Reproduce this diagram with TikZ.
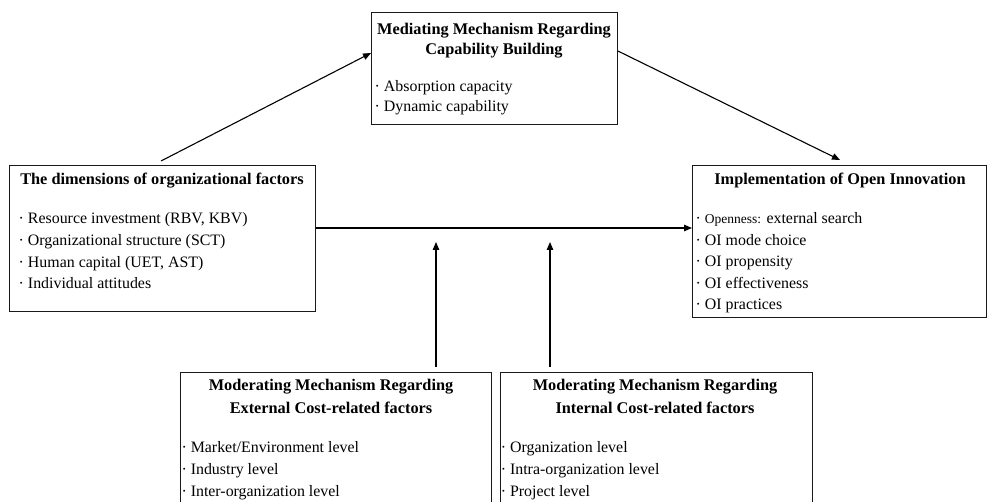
\documentclass[tikz,border=0pt]{standalone}
\usepackage{fontspec}
\setmainfont{Liberation Serif}
\usetikzlibrary{arrows.meta,calc}
\begin{document}
\begin{tikzpicture}[x=1pt,y=-1pt,
  box/.style={draw=black!90, line width=0.9pt, rectangle, inner sep=0pt, anchor=north west},
  ttl/.style={font=\fontsize{16.3}{21}\selectfont\bfseries, align=center, inner sep=0pt, anchor=base},
  lst/.style={font=\fontsize{15.9}{21.6}\selectfont, align=left, inner sep=0pt, anchor=base west},
  arr/.style={line width=1.1pt, -{Triangle[length=8pt,width=6.5pt]}}]
\useasboundingbox (0,0) rectangle (987,502);
\clip (0,0) rectangle (987,502);
% boxes
\node[box, minimum width=306, minimum height=146] (dim) at (9,165) {};
\node[box, minimum width=246, minimum height=112] (med) at (371,12) {};
\node[box, minimum width=294, minimum height=152] (impl) at (692,165) {};
\node[box, minimum width=311, minimum height=140] (ext) at (180,372) {};
\node[box, minimum width=312, minimum height=140] (int) at (500,372) {};
% texts (base anchor = baseline of last line)
\node[ttl] (dimT) at (162,185) {The dimensions of organizational factors};
\node[lst] (dimL) at (18.5,288.8) {· Resource investment (RBV, KBV)\\· Organizational structure (SCT)\\· Human capital (UET, AST)\\· Individual attitudes};
\node[ttl, font=\fontsize{16.3}{20.5}\selectfont\bfseries] (medT) at (494,55) {Mediating Mechanism Regarding\\Capability Building};
\node[lst, font=\fontsize{15.9}{20}\selectfont] (medL) at (374.5,111.5) {· Absorption capacity\\· Dynamic capability};
\node[ttl] (implT) at (840,185) {Implementation of Open Innovation};
\node[lst] (implL) at (695.5,309.9) {· {\fontsize{13.5}{16}\selectfont Openness:} external search\\· OI mode choice\\· OI propensity\\· OI effectiveness\\· OI practices};
\node[ttl, font=\fontsize{16.3}{23}\selectfont\bfseries] (extT) at (331,413) {Moderating Mechanism Regarding\\External Cost-related factors};
\node[lst] (extL) at (181.3,496.1) {· Market/Environment level\\· Industry level\\· Inter-organization level};
\node[ttl, font=\fontsize{16.3}{23}\selectfont\bfseries] (intT) at (655,413) {Moderating Mechanism Regarding\\Internal Cost-related factors};
\node[lst] (intL) at (500.6,496.1) {· Organization level\\· Intra-organization level\\· Project level};
% moderation targets
\coordinate (m1) at (436,242);
\coordinate (m2) at (550,242);
% connectors
\draw[arr] ($(dim.north west)+(152,-4)$) -- ($(med.north west)+(0,41)$);
\draw[arr] ($(med.north east)+(0,39)$) -- ($(impl.north west)+(148,-5)$);
\draw[arr] ($(dim.north east)+(0,63)$) -- ($(impl.north west)+(0,63)$);
\draw[arr] ($(ext.north west)+(256,-5)$) -- (m1);
\draw[arr] ($(int.north west)+(50,-5)$) -- (m2);
\end{tikzpicture}
\end{document}
